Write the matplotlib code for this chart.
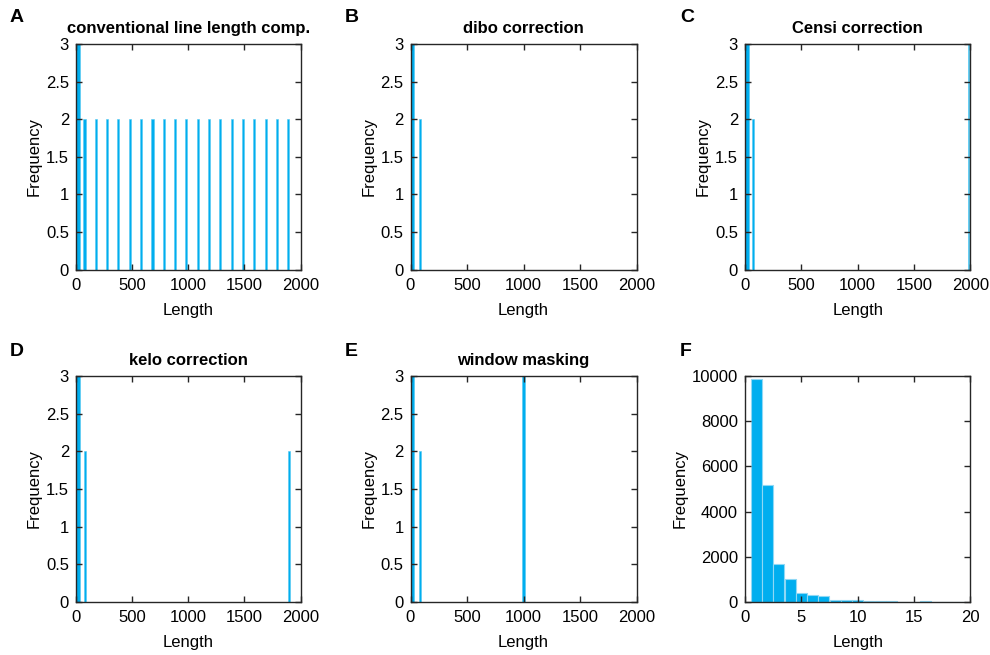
import matplotlib.pyplot as plt

plt.rcParams['font.family'] = ['Liberation Sans', 'DejaVu Sans']

# bar data (centre, width, count)
a_centers = [20, 78, 177, 278, 378, 479, 580, 681, 782, 882, 983, 1084,
             1185, 1286, 1387, 1488, 1589, 1690, 1790, 1891]
a_widths = [40, 27] + [19] * 18
a_counts = [3, 2] + [2] * 18

b_centers = [15, 84]
b_widths = [30, 18]
b_counts = [3, 2]

c_centers = [18, 72, 1983]
c_widths = [36, 22, 16]
c_counts = [3, 2, 3]

d_centers = [18, 83, 1896]
d_widths = [36, 20, 18]
d_counts = [3, 2, 2]

e_centers = [15, 84, 1000]
e_widths = [30, 18, 20]
e_counts = [3, 2, 3]

f_centers = list(range(1, 20))
f_counts = [9850, 5180, 1680, 1010, 380, 310, 280, 70, 70, 100,
            30, 25, 25, 20, 15, 25, 20, 15, 10]

letters = ['A', 'B', 'C', 'D', 'E', 'F']
titles = ['conventional line length comp.', 'dibo correction', 'Censi correction',
          'kelo correction', 'window masking', '']

bar_color = '#00AEEF'
W, H = 990, 655
col_x = [(76, 300.5), (410.5, 636.5), (745, 970.5)]
row_y = [(44, 269.5), (376, 602)]
letter_pos = [(10, 17), (345, 17), (680, 17), (10, 352), (345, 352), (680, 352)]

fig = plt.figure(figsize=(9.9, 6.55), dpi=100)

panels = [
    (a_centers, a_widths, a_counts),
    (b_centers, b_widths, b_counts),
    (c_centers, c_widths, c_counts),
    (d_centers, d_widths, d_counts),
    (e_centers, e_widths, e_counts),
    (f_centers, [0.97] * len(f_centers), f_counts),
]

for i, (xs, ws, hs) in enumerate(panels):
    r, c = divmod(i, 3)
    x0, x1 = col_x[c]
    y0, y1 = row_y[r]
    ax = fig.add_axes([x0 / W, 1 - y1 / H, (x1 - x0) / W, (y1 - y0) / H])
    if i < 5:
        ax.bar(xs, hs, width=ws, color=bar_color, edgecolor='#55C8F2', linewidth=0.4)
        ax.set_xlim(0, 2000)
        ax.set_ylim(0, 3)
        ax.set_xticks([0, 500, 1000, 1500, 2000])
        ax.set_yticks([0, 0.5, 1, 1.5, 2, 2.5, 3])
        ax.set_yticklabels(['0', '0.5', '1', '1.5', '2', '2.5', '3'])
    else:
        ax.bar(xs, hs, width=ws, color=bar_color, edgecolor='#8FD8F5', linewidth=0.8)
        ax.set_xlim(0, 20)
        ax.set_ylim(0, 10000)
        ax.set_xticks([0, 5, 10, 15, 20])
        ax.set_yticks([0, 2000, 4000, 6000, 8000, 10000])
    ax.tick_params(direction='in', top=True, right=True, length=4, width=1,
                   labelsize=12, colors='#262626', labelcolor='black')
    ax.tick_params(axis='x', pad=6)
    ax.tick_params(axis='y', pad=5)
    for s in ax.spines.values():
        s.set_linewidth(1)
        s.set_color('#262626')
    ax.set_xlabel('Length', fontsize=12, labelpad=7)
    ax.set_ylabel('Frequency', fontsize=12, labelpad=3)
    if titles[i]:
        ax.set_title(titles[i], fontsize=12, fontweight='bold', pad=8)
    lx, ly = letter_pos[i]
    fig.text(lx / W, 1 - ly / H, letters[i], fontsize=14, fontweight='bold',
             ha='left', va='center')

fig.savefig('out.png', dpi=100)
